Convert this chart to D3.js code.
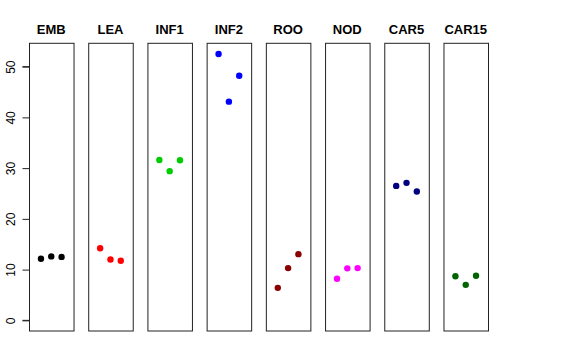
<!doctype html>
<html>
<head>
<script src="https://d3js.org/d3.v7.min.js"></script>
<style>
body { margin: 0; background: #fff; }
svg { font-family: "Liberation Sans", Arial, sans-serif; }
.title { font-weight: bold; font-size: 13px; }
.yaxis text { font-size: 12px; }
</style>
</head>
<body>
<svg width="576" height="360" id="chart"></svg>
<script>
var categories = ["EMB", "LEA", "INF1", "INF2", "ROO", "NOD", "CAR5", "CAR15"];
var colors = ["#000000", "#ff0000", "#00cd00", "#0000ff", "#8b0000", "#ff00ff", "#000080", "#006400"];
var rep1 = [12.15, 14.2, 31.6, 52.5, 6.4, 8.2, 26.5, 8.7];
var rep2 = [12.6, 12.0, 29.4, 43.1, 10.3, 10.25, 27.1, 7.0];
var rep3 = [12.5, 11.75, 31.55, 48.2, 13.05, 10.3, 25.4, 8.8];
var yTicks = [0, 10, 20, 30, 40, 50];

var svg = d3.select("#chart");

// panel placement
var x = d3.scaleBand().domain(categories).range([29, 488]).paddingInner(0.248).paddingOuter(0);
var bw = x.bandwidth();
var xin = d3.scaleLinear().domain([-0.16, 4.16]).range([0, bw]);
var y = d3.scaleLinear().domain([-2.1, 54.6]).range([331, 43.3]);

var panels = svg.selectAll("g.panel").data(categories)
  .enter().append("g")
  .attr("class", "panel")
  .attr("transform", function(d) { return "translate(" + x(d) + ",0)"; });

panels.append("rect")
  .attr("x", 0.5)
  .attr("y", y.range()[1])
  .attr("width", bw)
  .attr("height", y.range()[0] - y.range()[1])
  .attr("fill", "none")
  .attr("stroke", "#222")
  .attr("stroke-width", 1);

panels.append("text")
  .attr("class", "title")
  .attr("x", bw / 2)
  .attr("y", 34)
  .attr("text-anchor", "middle")
  .text(function(d) { return d; });

panels.each(function(d, i) {
  var pts = [rep1[i], rep2[i], rep3[i]];
  d3.select(this).selectAll("circle").data(pts)
    .enter().append("circle")
    .attr("cx", function(v, j) { return xin(j + 1); })
    .attr("cy", function(v) { return y(v); })
    .attr("r", 3.2)
    .attr("fill", colors[i]);
});

// y axis on the left of the first panel
var yAxis = d3.axisLeft(y).tickValues(yTicks).tickSize(7).tickPadding(3);
var ga = svg.append("g").attr("class", "yaxis").attr("transform", "translate(29.5,0)").call(yAxis);
ga.select(".domain").attr("d", "M-7," + y(0) + "H0V" + y(50) + "H-7").attr("stroke", "#222");
ga.selectAll("line").attr("stroke", "#222");
ga.selectAll("text")
  .attr("transform", "translate(-19,0) rotate(-90)")
  .attr("x", 0).attr("y", 0).attr("dy", "0.35em")
  .attr("text-anchor", "middle")
  .attr("fill", "#000");
</script>
</body>
</html>
